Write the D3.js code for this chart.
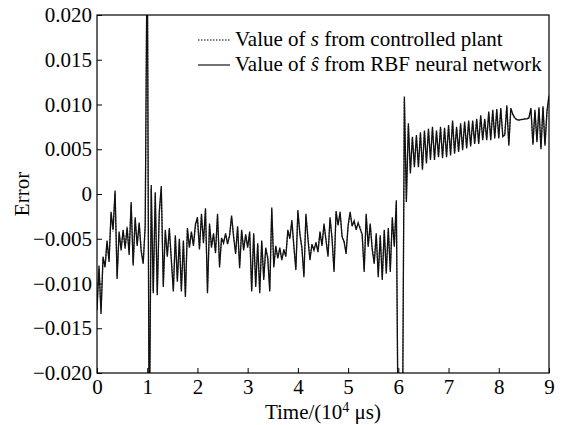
<!DOCTYPE html>
<html lang="en">
<head>
    <meta charset="UTF-8">
    <title>error chart</title>
    <script src="https://d3js.org/d3.v7.min.js"></script>
    <style>
        body { margin: 0; background: #fff; }
        text { font-family: "Liberation Serif", "Times New Roman", serif; fill: #000; }
    </style>
</head>
<body>
    <svg></svg>
    <script>
        // time axis, units of 10^4 us, one sample every 0.04
        const time = d3.range(0, 226).map(i => +(i * 0.04).toFixed(2));

        // errors, in units of 1e-3 (one row per time unit)
        // +-30 means the trace leaves the visible range
        const sHat = [
            -13.0, -8.0, -13.4, -7.0, -8.2, -5.2, -7.6, -2.0, -4.0, 0.4, -9.5, -4.2, -6.3, -4.0, -6.0, -3.8, -6.8, -0.9, -8.0, -2.6, -5.8, -3.2, -6.4, -7.8, -3.5,
            30, -30, 1.0, -11.1, 0.2, -11.3, -2.0, 0.9, -10.4, -4.0, -7.0, -3.8, -7.4, -10.9, -4.6, -9.8, -5.0, -10.9, -5.2, -11.5, -3.8, -6.0, -4.2, -5.8, -3.4,
            -2.6, -6.2, -2.2, -5.5, -1.6, -11.1, -3.3, -6.0, -4.4, -6.6, -2.2, -8.2, -4.9, -5.5, -4.4, -5.6, -4.6, -2.4, -4.8, -6.7, -3.6, -8.3, -4.0, -6.3, -4.5,
            -6.0, -4.2, -10.9, -4.4, -10.4, -5.5, -11.1, -5.2, -9.6, -6.0, -7.2, -10.9, -1.5, -8.2, -5.8, -7.2, -6.0, -7.4, -6.2, -7.0, -4.0, -5.0, -2.9, -5.9, -8.5,
            -1.8, -4.5, -6.0, -9.3, -2.2, -5.0, -7.4, -5.6, -6.3, -5.4, -6.5, -4.2, -5.8, -3.3, -5.2, -7.0, -2.6, -5.0, -8.7, -1.9, -3.5, -2.0, -4.8, -5.3, -6.7,
            -3.5, -2.0, -3.6, -3.0, -4.0, -3.2, -3.9, -4.5, -8.7, -2.2, -5.9, -3.3, -6.2, -7.8, -4.4, -9.3, -4.6, -9.6, -4.0, -8.9, -3.8, -8.7, -2.6, -5.9, -0.7,
            -30, -30, -30, 10.9, -0.9, 7.9, 2.3, 6.4, 3.0, 6.6, 3.0, 6.9, 2.7, 7.1, 3.4, 7.3, 3.8, 7.5, 3.8, 7.1, 4.1, 7.5, 4.0, 7.4, 4.1,
            7.7, 4.3, 8.2, 4.5, 7.5, 4.7, 7.9, 4.9, 8.1, 5.1, 8.2, 5.3, 8.2, 5.6, 8.4, 5.6, 8.8, 6.0, 8.4, 6.0, 9.2, 6.0, 9.4, 6.2, 9.5,
            6.2, 9.6, 6.4, 6.6, 9.9, 5.4, 9.6, 8.9, 8.5, 8.3, 8.25, 8.3, 8.35, 8.4, 8.4, 8.5, 9.6, 5.5, 9.4, 5.8, 9.7, 5.0, 9.8, 5.4, 9.3,
            11.0
        ];

        const sPlant = [
            -12.6, -8.3, -13.1, -7.3, -8.0, -5.5, -7.3, -2.3, -4.2, 0.1, -9.2, -4.5, -6.0, -4.2, -6.2, -3.6, -6.5, -1.2, -7.7, -2.9, -5.6, -3.4, -6.2, -7.5, -3.8,
            30, -30, 0.6, -10.8, 0.0, -11.0, -2.3, 0.6, -10.1, -4.3, -6.8, -4.0, -7.1, -10.6, -4.8, -9.5, -5.3, -10.6, -5.4, -11.2, -4.0, -5.8, -4.4, -5.6, -3.6,
            -2.9, -6.0, -2.5, -5.3, -1.9, -10.8, -3.5, -5.8, -4.6, -6.4, -2.5, -7.9, -5.1, -5.3, -4.6, -5.4, -4.8, -2.7, -4.6, -6.5, -3.8, -8.0, -4.2, -6.1, -4.7,
            -5.8, -4.4, -10.6, -4.6, -10.1, -5.7, -10.8, -5.4, -9.3, -6.2, -7.0, -10.6, -1.8, -7.9, -6.0, -7.0, -6.2, -7.2, -6.4, -6.8, -4.3, -4.8, -3.2, -5.7, -8.2,
            -2.1, -4.3, -6.2, -9.0, -2.5, -4.8, -7.1, -5.8, -6.1, -5.6, -6.3, -4.4, -5.6, -3.6, -5.0, -6.7, -2.9, -4.8, -8.4, -2.2, -3.3, -2.3, -4.6, -5.5, -6.4,
            -3.7, -2.3, -3.4, -3.2, -3.8, -3.4, -3.7, -4.7, -8.4, -2.5, -5.7, -3.5, -6.0, -7.5, -4.6, -9.0, -4.8, -9.3, -4.2, -8.6, -4.0, -8.4, -2.9, -5.7, -1.0,
            -30, -30, -30, 10.6, -0.6, 7.6, 2.6, 6.2, 3.3, 6.4, 3.2, 6.7, 2.9, 6.9, 3.6, 7.1, 4.0, 7.3, 4.0, 6.9, 4.3, 7.3, 4.2, 7.2, 4.3,
            7.5, 4.5, 8.0, 4.7, 7.3, 4.9, 7.7, 5.1, 7.9, 5.3, 8.0, 5.5, 8.0, 5.8, 8.2, 5.8, 8.6, 6.2, 8.2, 6.2, 9.0, 6.2, 9.2, 6.4, 9.3,
            6.4, 9.4, 6.6, 6.8, 9.7, 5.6, 9.4, 8.8, 8.45, 8.3, 8.25, 8.3, 8.35, 8.4, 8.4, 8.5, 9.4, 5.7, 9.2, 6.0, 9.5, 5.2, 9.6, 5.6, 9.1,
            10.8
        ];

        const xTicks = [0, 1, 2, 3, 4, 5, 6, 7, 8, 9];
        const yTicks = [-0.020, -0.015, -0.010, -0.005, 0, 0.005, 0.010, 0.015, 0.020];

        const svgWidth = 563;
        const svgHeight = 425;
        const margin = { top: 15, right: 14, bottom: 52, left: 97 };
        const width = svgWidth - margin.left - margin.right;
        const height = svgHeight - margin.top - margin.bottom;
        const fontSize = 21;

        const svg = d3.select('svg')
            .attr('width', svgWidth)
            .attr('height', svgHeight);

        svg.append('defs').append('clipPath')
            .attr('id', 'plot-clip')
            .append('rect')
            .attr('width', width)
            .attr('height', height);

        const g = svg.append('g')
            .attr('transform', `translate(${margin.left},${margin.top})`);

        const x = d3.scaleLinear().domain([0, 9]).range([0, width]);
        const y = d3.scaleLinear().domain([-0.02, 0.02]).range([height, 0]);

        const toPoints = vals => vals.map((v, i) => ({ t: time[i], v: v / 1000 }));

        const line = d3.line()
            .x(d => x(d.t))
            .y(d => y(d.v));

        const plot = g.append('g').attr('clip-path', 'url(#plot-clip)');

        // controlled plant (dotted) underneath, network estimate (solid) on top
        plot.append('path')
            .datum(toPoints(sPlant))
            .attr('fill', 'none')
            .attr('stroke', '#555')
            .attr('stroke-width', 1.3)
            .attr('stroke-dasharray', '1.5,1.5')
            .attr('d', line);

        plot.append('path')
            .datum(toPoints(sHat))
            .attr('fill', 'none')
            .attr('stroke', '#111')
            .attr('stroke-width', 1.3)
            .attr('d', line);

        const fmt = d3.format('.3f');

        const xAxis = g.append('g')
            .attr('transform', `translate(0,${height})`)
            .call(d3.axisBottom(x).tickValues(xTicks).tickSizeInner(-5).tickSizeOuter(0).tickPadding(6).tickFormat(d3.format('d')));

        const yAxis = g.append('g')
            .call(d3.axisLeft(y).tickValues(yTicks).tickSizeInner(-5).tickSizeOuter(0).tickPadding(5)
                .tickFormat(d => d === 0 ? '0' : fmt(d)));

        [xAxis, yAxis].forEach(a => {
            a.select('.domain').remove();
            a.selectAll('.tick line').attr('stroke', '#000');
            a.selectAll('text').attr('font-size', fontSize).style('font-family', '"Liberation Serif", serif');
        });

        // frame
        g.append('rect')
            .attr('width', width)
            .attr('height', height)
            .attr('fill', 'none')
            .attr('stroke', '#000')
            .attr('stroke-width', 1.2);

        // axis titles
        const xTitle = svg.append('text')
            .attr('x', margin.left + width / 2)
            .attr('y', 419)
            .attr('text-anchor', 'middle')
            .attr('font-size', fontSize);
        xTitle.append('tspan').text('Time/(10');
        xTitle.append('tspan').attr('font-size', 14).attr('dy', -7).text('4');
        xTitle.append('tspan').attr('dy', 7).text(' \u03bcs)');

        svg.append('text')
            .attr('transform', `translate(29,${margin.top + height / 2}) rotate(-90)`)
            .attr('text-anchor', 'middle')
            .attr('font-size', fontSize)
            .text('Error');

        // legend
        const legend = svg.append('g');
        const legendRows = [
            { dash: '1.5,1.5', pre: 'Value of ', sym: 's', post: ' from controlled plant' },
            { dash: null, pre: 'Value of ', sym: '\u015d', post: ' from RBF neural network' }
        ];
        legendRows.forEach((r, i) => {
            const yy = 40 + i * 25;
            legend.append('line')
                .attr('x1', 198).attr('x2', 230)
                .attr('y1', yy).attr('y2', yy)
                .attr('stroke', '#000')
                .attr('stroke-width', 1.1)
                .attr('stroke-dasharray', r.dash);
            const t = legend.append('text')
                .attr('x', 235)
                .attr('y', yy + 6)
                .attr('font-size', fontSize);
            t.append('tspan').text(r.pre);
            t.append('tspan').attr('font-style', 'italic').text(r.sym);
            t.append('tspan').text(r.post);
        });
    </script>
</body>
</html>
